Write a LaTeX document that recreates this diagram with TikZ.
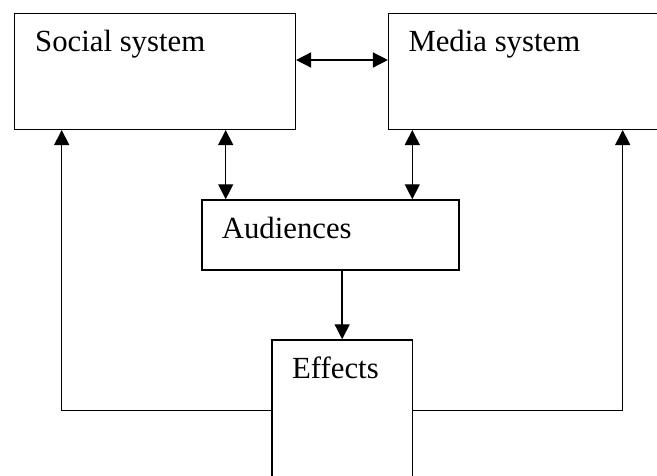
\documentclass[tikz,border=0pt]{standalone}
\usepackage{fontspec}
\setmainfont{Liberation Serif}
\usetikzlibrary{arrows.meta}
\begin{document}
\begin{tikzpicture}[x=1pt,y=-1pt,
  box/.style={draw,line width=1.5pt,rectangle,inner sep=0pt},
  lbl/.style={anchor=base west,inner sep=0pt,font=\fontsize{30.75}{36}\selectfont},
  conn/.style={line width=1.4pt,-{Triangle[length=15pt,width=15pt]}},
  dconn/.style={line width=1.4pt,{Triangle[length=15pt,width=15pt]}-{Triangle[length=15pt,width=15pt]}}]
\useasboundingbox (0,0) rectangle (657,475);
\clip (0,0) rectangle (657,475);
\node[box,minimum width=280.6pt,minimum height=116pt] (social) at (155,71.3) {};
\node[box,minimum width=311.3pt,minimum height=116pt] (media) at (544.35,71.3) {};
\node[box,minimum width=257pt,minimum height=70pt] (aud) at (330.5,235) {};
\node[box,minimum width=140.3pt,minimum height=180pt] (eff) at (342.15,430) {};
\node[lbl] (tsocial) at (35,51.7) {Social system};
\node[lbl] (tmedia) at (408.3,51.7) {Media system};
\node[lbl] (taud) at (221.7,238.3) {Audiences};
\node[lbl] (teff) at (292,378) {Effects};
\coordinate (h1) at (0,60);
\coordinate (v1) at (225.7,0);
\coordinate (v2) at (412.3,0);
\coordinate (vl) at (61.7,0);
\coordinate (vr) at (622.7,0);
\coordinate (hb) at (0,410.3);
\draw[dconn] (social.east |- h1) -- (media.west |- h1);
\draw[dconn] (social.south -| v1) -- (aud.north -| v1);
\draw[dconn] (media.south -| v2) -- (aud.north -| v2);
\draw[conn] (eff.north |- aud.south) -- (eff.north);
\draw[conn] (eff.west |- hb) -| (social.south -| vl);
\draw[conn] (eff.east |- hb) -| (media.south -| vr);
\end{tikzpicture}
\end{document}
